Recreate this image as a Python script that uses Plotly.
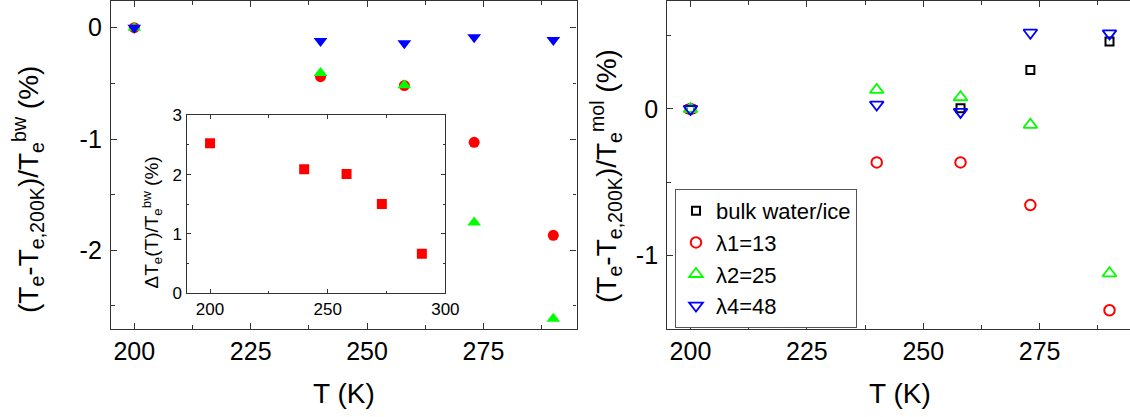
import plotly.graph_objects as go

# ---------------- data ----------------
T_main = [200, 240, 258, 273, 290]
left_l1 = [0, -0.44, -0.52, -1.03, -1.865]
left_l2 = [0, -0.408, -0.518, -1.75, -2.615]
left_l4 = [0, -0.12, -0.14, -0.085, -0.11]

T_inset = [200, 240, 258, 273, 290]
inset_dT = [2.53, 2.09, 2.01, 1.505, 0.665]

T_bulk = [200, 258, 273, 290]
right_bulk = [0, 0.005, 0.265, 0.46]
right_l1 = [0, -0.364, -0.364, -0.655, -1.372]
right_l2 = [0, 0.13, 0.08, -0.108, -1.12]
right_l4 = [0, 0.03, -0.02, 0.52, 0.515]

legend_names = ["bulk water/ice", "λ1=13", "λ2=25", "λ4=48"]

main_xticks = [200, 225, 250, 275]
main_xminor = [212.5, 237.5, 262.5, 287.5]
left_yticks = [0, -1, -2]
left_yticktext = ["0", "-1", "-2"]
left_yminor = [-0.5, -1.5, -2.5]
right_yticks = [0, -1]
right_yticktext = ["0", "-1"]
right_yminor = [0.5, -0.5]
inset_xticks = [200, 250, 300]
inset_xminor = [225, 275]
inset_yticks = [0, 1, 2, 3]
inset_yminor = [0.5, 1.5, 2.5]

RED = "#FF0000"
GREEN = "#00FF00"
BLUE = "#0000FF"
BLACK = "#000000"
FONT = "Liberation Sans, Arial, sans-serif"
LINE = "#333333"

W, H = 1130, 417
MT, MB = 1, 88
PH = H - MT - MB

fig = go.Figure()

# ---- left main panel (filled markers) ----
fig.add_trace(go.Scatter(x=T_main, y=left_l1, mode="markers", xaxis="x", yaxis="y",
                         marker=dict(symbol="circle", size=11, color=RED), showlegend=False))
fig.add_trace(go.Scatter(x=T_main, y=left_l2, mode="markers", xaxis="x", yaxis="y",
                         marker=dict(symbol="triangle-up", size=12, color=GREEN), showlegend=False))
fig.add_trace(go.Scatter(x=T_main, y=left_l4, mode="markers", xaxis="x", yaxis="y",
                         marker=dict(symbol="triangle-down", size=12, color=BLUE), showlegend=False))

# ---- inset ----
fig.add_trace(go.Scatter(x=T_inset, y=inset_dT, mode="markers", xaxis="x3", yaxis="y3",
                         marker=dict(symbol="square", size=10, color=RED), showlegend=False))

# ---- right panel (open markers) ----
fig.add_trace(go.Scatter(x=T_bulk, y=right_bulk, mode="markers", xaxis="x2", yaxis="y2",
                         name=legend_names[0],
                         marker=dict(symbol="square-open", size=8, color=BLACK, line=dict(width=2))))
fig.add_trace(go.Scatter(x=T_main, y=right_l1, mode="markers", xaxis="x2", yaxis="y2",
                         name=legend_names[1],
                         marker=dict(symbol="circle-open", size=10.5, color=RED, line=dict(width=2))))
fig.add_trace(go.Scatter(x=T_main, y=right_l2, mode="markers", xaxis="x2", yaxis="y2",
                         name=legend_names[2],
                         marker=dict(symbol="triangle-up-open", size=12, color=GREEN, line=dict(width=1.8))))
fig.add_trace(go.Scatter(x=T_main, y=right_l4, mode="markers", xaxis="x2", yaxis="y2",
                         name=legend_names[3],
                         marker=dict(symbol="triangle-down-open", size=12, color=BLUE, line=dict(width=1.8))))


def px_to_paper_x(px):
    return px / W


def px_to_paper_y(py):
    return (H - MB - py) / PH


def axis(**kw):
    base = dict(showline=True, linecolor=LINE, linewidth=1.3, ticks="inside", ticklen=6,
                tickwidth=1.2, tickcolor=LINE, showgrid=False, zeroline=False,
                automargin=False,
                tickfont=dict(family=FONT, size=25, color="black"))
    base.update(kw)
    return base


x_left_dom = [px_to_paper_x(111.0), px_to_paper_x(576.6)]
x_right_dom = [px_to_paper_x(667.2), 1.0]
x_inset_dom = [px_to_paper_x(186.5), px_to_paper_x(445.4)]
y_inset_dom = [px_to_paper_y(293.3), px_to_paper_y(115.3)]

fig.update_layout(
    template="none",
    width=W, height=H, autosize=False,
    margin=dict(l=0, r=0, t=MT, b=MB, pad=0, autoexpand=False),
    paper_bgcolor="white", plot_bgcolor="white",
    font=dict(family=FONT, color="black"),
    xaxis=axis(domain=x_left_dom, range=[195, 295], anchor="y", mirror="ticks",
               tickvals=main_xticks, ticklabelstandoff=0,
               minor=dict(tickvals=main_xminor, ticks="inside", ticklen=3.5, tickcolor=LINE)),
    yaxis=axis(domain=[0, 1], range=[-2.707, 0.2399], anchor="x", mirror="ticks",
               tickvals=left_yticks, ticktext=left_yticktext, ticklabelstandoff=3,
               minor=dict(tickvals=left_yminor, ticks="inside", ticklen=3.5, tickcolor=LINE)),
    xaxis2=axis(domain=x_right_dom, range=[195, 294.4], anchor="y2", mirror="ticks",
                tickvals=main_xticks, ticklabelstandoff=0,
                minor=dict(tickvals=main_xminor, ticks="inside", ticklen=3.5, tickcolor=LINE)),
    yaxis2=axis(domain=[0, 1], range=[-1.4997, 0.736], anchor="x2", mirror=False,
                tickvals=right_yticks, ticktext=right_yticktext, ticklabelstandoff=3,
                minor=dict(tickvals=right_yminor, ticks="inside", ticklen=3.5, tickcolor=LINE)),
    xaxis3=axis(domain=x_inset_dom, range=[190, 300], anchor="y3", mirror="ticks",
                tickvals=inset_xticks, ticklen=4, linewidth=1.2,
                tickfont=dict(family=FONT, size=17, color="black"),
                minor=dict(tickvals=inset_xminor, ticks="inside", ticklen=2.5, tickcolor=LINE)),
    yaxis3=axis(domain=y_inset_dom, range=[0, 3], anchor="x3", mirror="ticks",
                tickvals=inset_yticks, ticklen=4, linewidth=1.2,
                tickfont=dict(family=FONT, size=17, color="black"),
                minor=dict(tickvals=inset_yminor, ticks="inside", ticklen=2.5, tickcolor=LINE)),
    legend=dict(x=px_to_paper_x(675), y=px_to_paper_y(189), xanchor="left", yanchor="top",
                bordercolor="#555555", borderwidth=1, bgcolor="white",
                font=dict(family=FONT, size=22, color="black"),
                itemsizing="trace", tracegroupgap=0),
    showlegend=True,
    hovermode=False,
)

title_font = dict(family=FONT, size=28, color="black")
annotations = [
    dict(text="(T<sub>e</sub>-T<sub>e,200K</sub>)/T<sub>e</sub><sup>bw</sup> (%)",
         x=px_to_paper_x(28), y=px_to_paper_y(190), xref="paper", yref="paper",
         textangle=-90, showarrow=False, xanchor="center", yanchor="middle", font=title_font),
    dict(text="(T<sub>e</sub>-T<sub>e,200K</sub>)/T<sub>e</sub><sup>mol</sup> (%)",
         x=px_to_paper_x(606), y=px_to_paper_y(176), xref="paper", yref="paper",
         textangle=-90, showarrow=False, xanchor="center", yanchor="middle", font=title_font),
    dict(text="T (K)", x=px_to_paper_x(344), y=px_to_paper_y(393), xref="paper", yref="paper",
         showarrow=False, xanchor="center", yanchor="middle", font=title_font),
    dict(text="T (K)", x=px_to_paper_x(900), y=px_to_paper_y(393), xref="paper", yref="paper",
         showarrow=False, xanchor="center", yanchor="middle", font=title_font),
    dict(text="ΔT<sub>e</sub>(T)/T<sub>e</sub><sup>bw</sup> (%)",
         x=px_to_paper_x(152.5), y=px_to_paper_y(223), xref="paper", yref="paper",
         textangle=-90, showarrow=False, xanchor="center", yanchor="middle",
         font=dict(family=FONT, size=19, color="black")),
]
fig.update_layout(annotations=annotations)

fig.write_html("out.html", config={"displayModeBar": False},
               post_script="document.body.style.margin='0';document.body.style.overflow='hidden';")
